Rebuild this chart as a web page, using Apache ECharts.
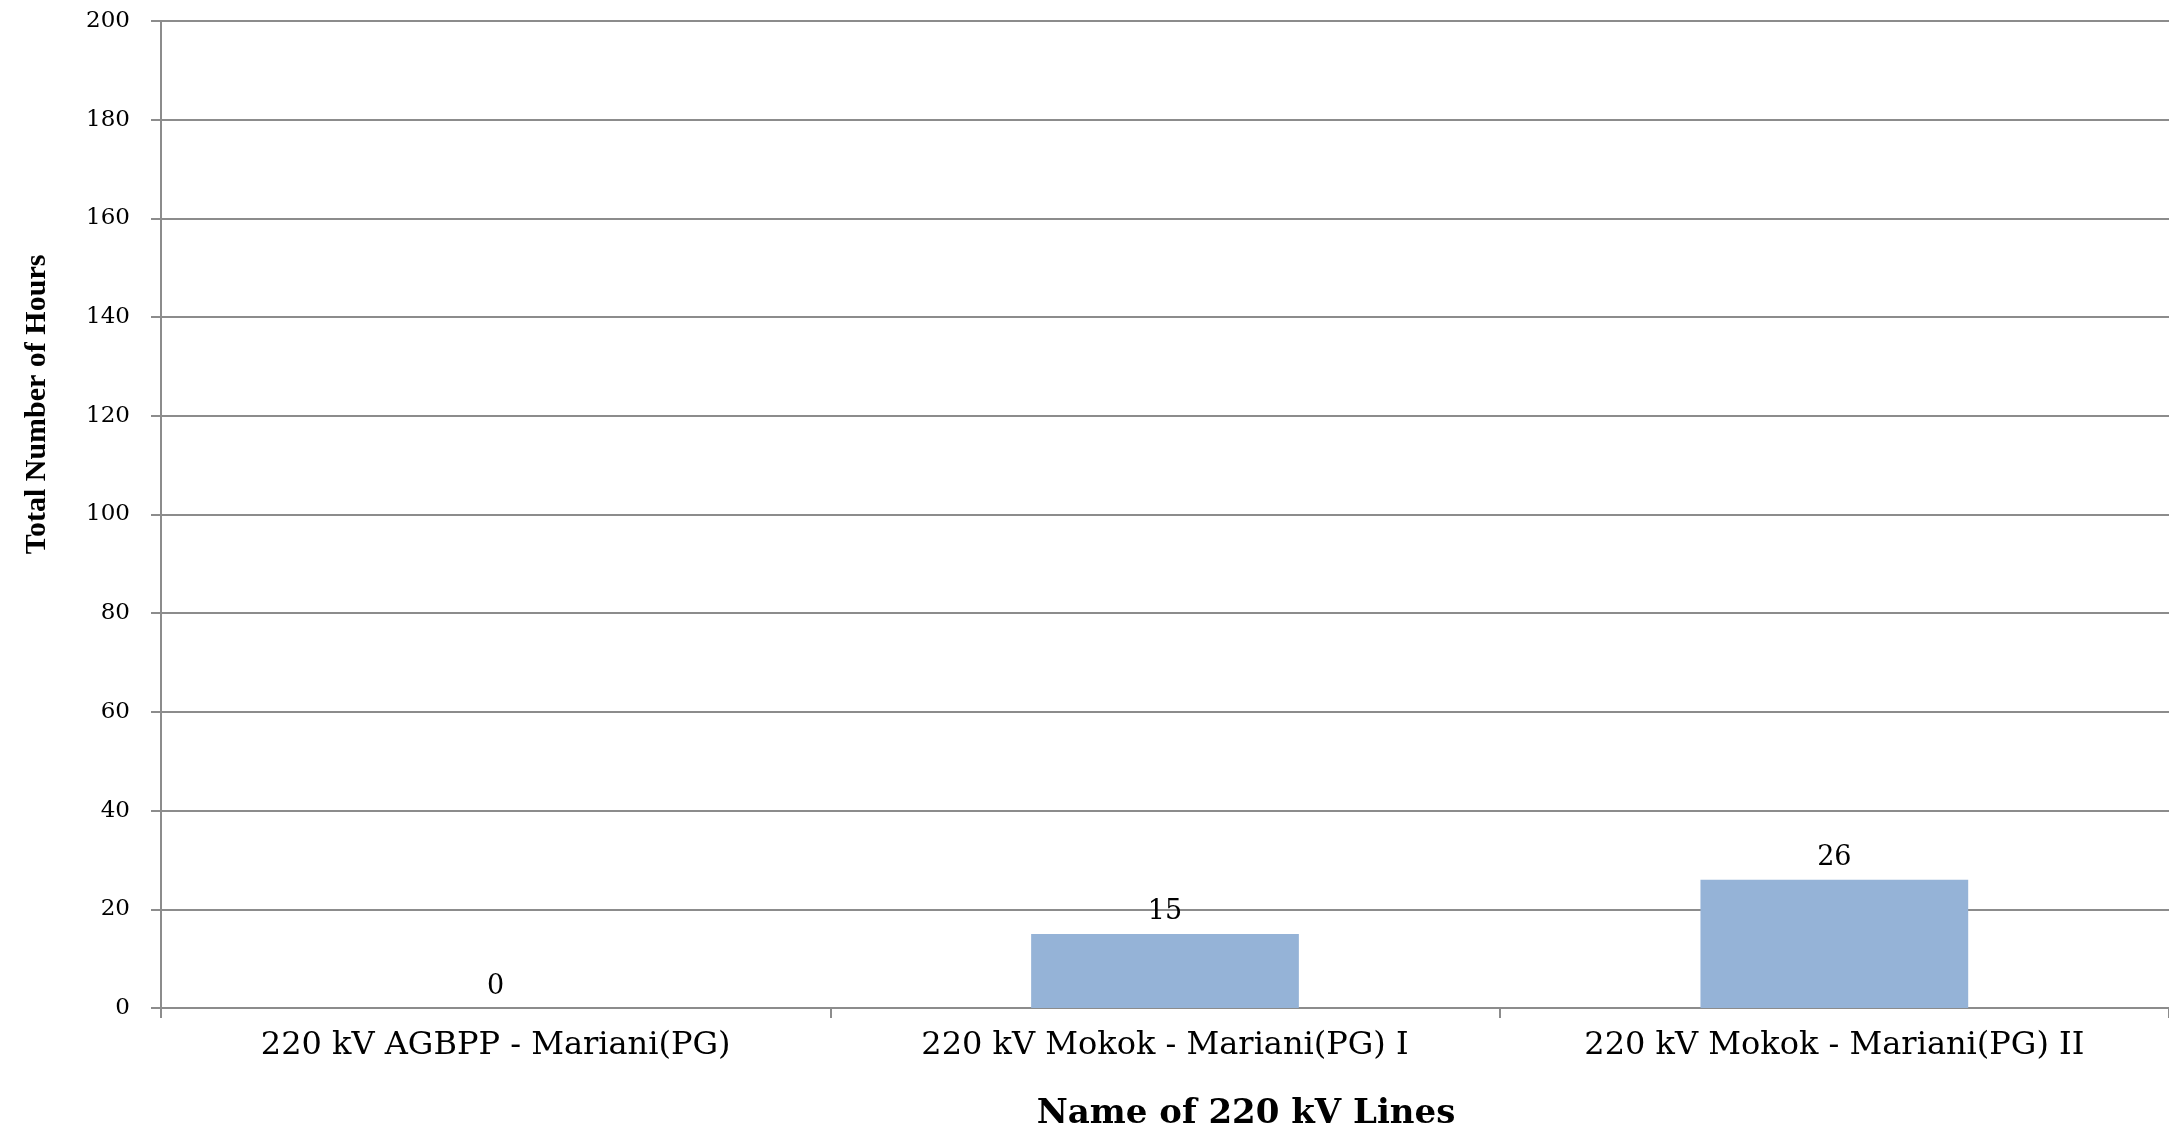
<!DOCTYPE html>
<html>
<head>
<meta charset="utf-8">
<script src="https://cdn.jsdelivr.net/npm/echarts@6/dist/echarts.min.js"></script>
<style>
html,body{margin:0;padding:0;background:#fff;}
#chart{width:2169px;height:1132px;}
</style>
</head>
<body>
<div id="chart"></div>
<script>
const categories = ['220 kV AGBPP - Mariani(PG)', '220 kV Mokok - Mariani(PG) I', '220 kV Mokok - Mariani(PG) II'];
const hours = [0, 15, 26];
const yMin = 0, yMax = 200, yStep = 20;
const xTitle = 'Name of 220 kV Lines';
const yTitle = 'Total Number of Hours';

const chart = echarts.init(document.getElementById('chart'), null, {renderer: 'canvas'});
const serifWide = '"DejaVu Serif", serif';
const serif = '"Liberation Serif", "Times New Roman", serif';
chart.setOption({
  animation: false,
  backgroundColor: '#fff',
  grid: {left: 161, right: 0, top: 21, bottom: 124, containLabel: false, outerBoundsMode: 'none'},
  xAxis: {
    type: 'category',
    data: categories,
    name: xTitle,
    nameLocation: 'middle',
    nameGap: 89,
    nameTextStyle: {fontFamily: serifWide, fontWeight: 'bold', fontSize: 34, color: '#000', padding: [0, 0, 0, 162]},
    axisLine: {lineStyle: {color: '#8c8c8c', width: 2}},
    axisTick: {show: true, length: 10, lineStyle: {color: '#8c8c8c', width: 2}},
    axisLabel: {fontFamily: serifWide, fontSize: 32, color: '#000', margin: 22},
    splitLine: {show: false}
  },
  yAxis: {
    type: 'value',
    min: yMin, max: yMax, interval: yStep,
    name: yTitle,
    nameLocation: 'middle',
    nameRotate: 90,
    nameGap: 109,
    nameTextStyle: {fontFamily: serif, fontWeight: 'bold', fontSize: 30, color: '#000', padding: [0, 0, 0, 220]},
    axisLine: {show: true, lineStyle: {color: '#8c8c8c', width: 2}},
    axisTick: {show: true, length: 10, lineStyle: {color: '#8c8c8c', width: 2}},
    axisLabel: {fontFamily: serifWide, fontSize: 23, color: '#000', margin: 31},
    splitLine: {show: true, lineStyle: {color: '#8c8c8c', width: 2}}
  },
  series: [{
    type: 'bar',
    data: hours,
    barWidth: '40%',
    itemStyle: {color: '#95B3D7'},
    label: {show: true, position: 'top', distance: 8, fontFamily: serifWide, fontSize: 27, color: '#000'}
  }]
});
</script>
</body>
</html>
